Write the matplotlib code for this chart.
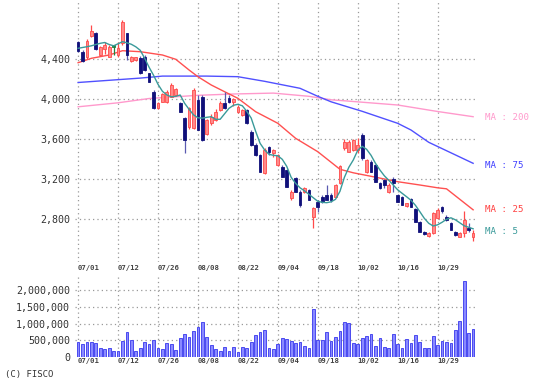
import matplotlib
matplotlib.use("Agg")
import matplotlib.pyplot as plt
import matplotlib.transforms as mtransforms
import numpy as np

# ---------------- data ----------------
date_labels = ["07/01", "07/12", "07/26", "08/08", "08/22", "09/04", "09/18", "10/02", "10/16", "10/29"]
label_idx = [0, 9, 18, 27, 36, 45, 54, 63, 72, 81]

opens = [4570, 4476, 4420, 4633, 4660, 4443, 4500, 4426, 4530, 4443,
         4560, 4660, 4386, 4393, 4410, 4426, 4260, 4076, 3910, 3976,
         3976, 4026, 4043, 3960, 3810, 3726, 3710, 3993, 4026, 3655,
         3760, 3793, 3893, 3960, 4010, 3976, 3876, 3843, 3893, 3676,
         3543, 3443, 3260, 3520, 3460, 3343, 3326, 3293, 3010, 3210,
         3076, 3076, 3093, 2826, 2976, 3026, 3043, 3043, 3026, 3160,
         3510, 3476, 3493, 3493, 3643, 3276, 3376, 3343, 3160, 3193,
         3076, 3200, 3043, 3020, 2933, 3000, 2900, 2776, 2676, 2633,
         2660, 2810, 2920, 2826, 2760, 2676, 2626, 2660, 2710, 2620]
highs = [4585, 4493, 4600, 4743, 4676, 4535, 4570, 4540, 4545, 4576,
         4793, 4666, 4430, 4426, 4430, 4440, 4266, 4090, 3975, 4066,
         4090, 4160, 4110, 3970, 3826, 3920, 4110, 4043, 4040, 3800,
         3850, 3900, 3980, 4076, 4043, 4010, 3940, 3900, 3900, 3690,
         3560, 3450, 3510, 3533, 3500, 3450, 3340, 3300, 3093, 3220,
         3093, 3120, 3100, 2926, 2993, 3043, 3143, 3060, 3150, 3340,
         3600, 3590, 3600, 3610, 3660, 3400, 3390, 3350, 3176, 3200,
         3160, 3220, 3050, 3030, 2966, 3010, 2910, 2780, 2685, 2670,
         2876, 2910, 2933, 2840, 2770, 2685, 2670, 2883, 2760, 2693]
lows = [4470, 4376, 4400, 4620, 4490, 4430, 4450, 4420, 4440, 4426,
        4543, 4393, 4370, 4386, 4250, 4280, 4170, 3900, 3900, 3970,
        3965, 4020, 4036, 3870, 3460, 3700, 3700, 3690, 3580, 3645,
        3745, 3785, 3885, 3900, 3960, 3930, 3860, 3830, 3750, 3530,
        3430, 3270, 3250, 3443, 3420, 3330, 3220, 3120, 2993, 3070,
        2926, 3060, 2990, 2710, 2876, 2960, 2990, 2976, 3020, 3150,
        3493, 3470, 3485, 3460, 3393, 3260, 3270, 3170, 3100, 3110,
        3060, 3076, 2970, 2940, 2925, 2920, 2770, 2670, 2640, 2625,
        2650, 2800, 2866, 2785, 2690, 2635, 2620, 2626, 2676, 2586]
closes = [4486, 4386, 4580, 4686, 4500, 4520, 4540, 4526, 4530, 4510,
          4776, 4443, 4420, 4420, 4260, 4293, 4176, 3910, 3960, 4053,
          4076, 4143, 4103, 3876, 3593, 3910, 4093, 3693, 3593, 3790,
          3826, 3876, 3960, 3910, 3976, 4000, 3926, 3893, 3760, 3543,
          3443, 3276, 3493, 3476, 3493, 3443, 3226, 3126, 3076, 3076,
          2943, 3110, 2993, 2910, 2926, 2976, 2993, 2993, 3143, 3330,
          3576, 3576, 3593, 3543, 3410, 3393, 3276, 3176, 3110, 3143,
          3143, 3160, 2976, 2943, 2960, 2926, 2776, 2676, 2650, 2660,
          2860, 2893, 2886, 2793, 2693, 2643, 2660, 2793, 2693, 2660]
volumes = [453000, 377000, 453000, 453000, 425000, 264000, 236000, 264000, 189000, 170000,
           472000, 755000, 500000, 189000, 283000, 453000, 377000, 500000, 283000, 236000,
           425000, 377000, 208000, 566000, 689000, 613000, 783000, 896000, 1057000, 613000,
           358000, 236000, 170000, 311000, 189000, 311000, 160000, 311000, 264000, 453000,
           660000, 736000, 802000, 264000, 236000, 377000, 566000, 547000, 472000, 406000,
           453000, 330000, 283000, 1434000, 500000, 500000, 736000, 472000, 613000, 783000,
           1038000, 1019000, 425000, 377000, 566000, 641000, 689000, 330000, 566000, 311000,
           283000, 689000, 377000, 283000, 547000, 406000, 660000, 453000, 283000, 264000,
           641000, 358000, 472000, 453000, 406000, 802000, 1085000, 2283000, 726000, 830000]

ma5 = [4510, 4518, 4526, 4535, 4548, 4560, 4568, 4548, 4535, 4555,
       4576, 4565, 4550, 4525, 4490, 4410, 4320, 4240, 4150, 4080,
       4043, 4025, 4030, 4043, 3960, 3900, 3845, 3815, 3812, 3820,
       3826, 3800, 3800, 3855, 3910, 3940, 3950, 3935, 3880, 3812,
       3680, 3560, 3495, 3450, 3440, 3435, 3400, 3330, 3220, 3160,
       3115, 3085, 3050, 3015, 2980, 2970, 2966, 2975, 3000, 3080,
       3220, 3320, 3393, 3490, 3530, 3500, 3440, 3360, 3293, 3235,
       3190, 3143, 3095, 3060, 3026, 2990, 2940, 2876, 2810, 2760,
       2733, 2745, 2770, 2800, 2815, 2795, 2765, 2735, 2720, 2705]

ma25_idx = [0, 3, 7, 10, 14, 19, 22, 25, 27, 30, 33, 36, 40, 45, 49, 54, 59, 62, 66, 72, 77, 81, 83, 89]
ma25_val = [4366, 4410, 4443, 4486, 4476, 4443, 4400, 4293, 4226, 4143, 4076, 4010, 3876, 3760, 3610,
            3476, 3300, 3265, 3230, 3176, 3143, 3115, 3105, 2895]
ma75_idx = [0, 14, 19, 29, 36, 42, 50, 54, 57, 64, 72, 75, 79, 89]
ma75_val = [4168, 4212, 4232, 4232, 4226, 4180, 4110, 4030, 3975, 3880, 3760, 3693, 3570, 3360]
ma200_idx = [0, 9, 16, 27, 35, 44, 52, 57, 60, 72, 81, 89]
ma200_val = [3925, 3965, 4008, 4040, 4053, 4062, 4030, 3995, 3985, 3943, 3878, 3826]

price_ticks = [2800, 3200, 3600, 4000, 4400]
vol_ticks = [0, 500000, 1000000, 1500000, 2000000]

# ---------------- style ----------------
W, H = 543, 385
fig = plt.figure(figsize=(W / 100, H / 100), dpi=100)
fig.patch.set_facecolor("white")

def rect(l, t, r, b):
    return [l / W, (H - b) / H, (r - l) / W, (b - t) / H]

ax = fig.add_axes(rect(75, 0, 478, 262))
axv = fig.add_axes(rect(75, 275, 478, 357))

grid_kw = dict(color="#999999", lw=0.9, ls=(0, (1, 2.5)), zorder=0)
mono = "DejaVu Sans Mono"
UP_FACE, UP_EDGE = "#ff8a8a", "#ff4a4a"
DN_FACE, DN_EDGE = "#10107a", "#10107a"
DN_WICK = "#5a5ab0"

n = len(closes)
x = np.arange(n)
o = np.array(opens); c = np.array(closes); h = np.array(highs); l = np.array(lows)

for a in (ax, axv):
    a.set_xlim(-0.7, 90.1)
    for s in a.spines.values():
        s.set_visible(False)
    a.tick_params(length=0, labelsize=7, colors="#333333")
    a.set_xticks([])
    for xi in label_idx:
        a.axvline(xi, **grid_kw)

ax.set_ylim(2373, 4993)
ax.set_yticks(price_ticks)
ax.set_yticklabels([f"{v:,}" for v in price_ticks], family=mono, fontsize=7.2, color="#333333")
for v in price_ticks:
    ax.axhline(v, **grid_kw)

# candles
up = c > o
dn = c < o
eq = c == o
ax.vlines(x[up], l[up], h[up], color=UP_EDGE, lw=0.9, zorder=3)
ax.vlines(x[dn], l[dn], h[dn], color=DN_WICK, lw=0.9, zorder=3)
ax.vlines(x[eq], l[eq], h[eq], color="#208040", lw=0.9, zorder=3)
ax.bar(x[up], (c - o)[up], bottom=o[up], width=0.62, color=UP_FACE, edgecolor=UP_EDGE, lw=0.6, zorder=4)
ax.bar(x[dn], (o - c)[dn], bottom=c[dn], width=0.62, color=DN_FACE, edgecolor=DN_EDGE, lw=0.6, zorder=4)
ax.bar(x[eq], 20, bottom=c[eq] - 10, width=0.62, color="#208040", edgecolor="#208040", lw=0.6, zorder=4)

# moving averages
ax.plot(ma200_idx, ma200_val, color="#ff99cc", lw=1.0, zorder=2)
ax.plot(ma75_idx, ma75_val, color="#5050ff", lw=1.0, zorder=2)
ax.plot(ma25_idx, ma25_val, color="#ff5050", lw=1.0, zorder=2)
ax.plot(x, ma5, color="#3a9a9a", lw=1.0, zorder=5)

# MA labels on the right
for txt, yy, col in [("MA : 200", 118, "#ff99cc"), ("MA : 75", 165, "#4040ff"),
                     ("MA : 25", 210, "#ff4040"), ("MA : 5", 231, "#3a9a9a")]:
    fig.text(485 / W, 1 - yy / H, txt, family=mono, fontsize=6.6, color=col, va="center", ha="left")

# volume
axv.set_ylim(0, 2455000)
axv.set_yticks(vol_ticks)
axv.set_yticklabels([f"{v:,}" for v in vol_ticks], family=mono, fontsize=7.2, color="#333333")
for v in vol_ticks[1:]:
    axv.axhline(v, **grid_kw)
axv.bar(x, volumes, width=0.62, color="#8a8aff", edgecolor="#4a4af0", lw=0.7, zorder=3)

# date labels
for xi, lab in zip(label_idx, date_labels):
    tr = mtransforms.blended_transform_factory(ax.transData, fig.transFigure)
    ax.text(xi, 1 - 268 / H, lab, transform=tr, family=mono, fontsize=5.2, fontweight="bold",
            color="#444444", ha="left", va="center")
    axv.text(xi, 1 - 361 / H, lab, transform=tr, family=mono, fontsize=5.2, fontweight="bold",
             color="#444444", ha="left", va="center")

fig.text(5 / W, 1 - 375 / H, "(C) FISCO", family=mono, fontsize=6.5, color="#333333", va="center", ha="left")

fig.savefig("out.png", dpi=100, facecolor="white")
